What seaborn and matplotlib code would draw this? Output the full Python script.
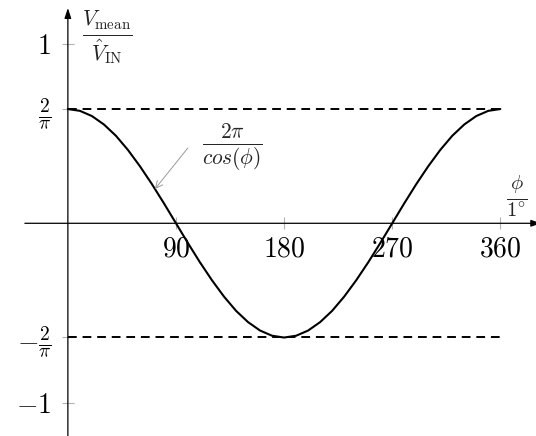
import numpy as np
import pandas as pd
import matplotlib
matplotlib.use("Agg")
import matplotlib.pyplot as plt
import seaborn as sns

# Phase angle (degrees) and normalised mean voltage V_mean / V_IN
phi_deg = [0, 10, 20, 30, 40, 50, 60, 70, 80, 90, 100, 110, 120, 130, 140, 150, 160, 170, 180,
           190, 200, 210, 220, 230, 240, 250, 260, 270, 280, 290, 300, 310, 320, 330, 340, 350, 360]
v_mean = [0.637, 0.627, 0.598, 0.551, 0.488, 0.409, 0.318, 0.218, 0.111, 0.000,
          -0.111, -0.218, -0.318, -0.409, -0.488, -0.551, -0.598, -0.627, -0.637,
          -0.627, -0.598, -0.551, -0.488, -0.409, -0.318, -0.218, -0.111, 0.000,
          0.111, 0.218, 0.318, 0.409, 0.488, 0.551, 0.598, 0.627, 0.637]

bound = 2 / np.pi
bound_levels = [bound, -bound]
bound_span = [0, 360]

x_ticks = [90, 180, 270, 360]
x_tick_labels = [r"$90$", r"$180$", r"$270$", r"$360$"]
y_ticks = [1, bound, -bound, -1]
y_tick_labels = [r"$1$", r"$\frac{2}{\pi}$", r"$-\frac{2}{\pi}$", r"$-1$"]

sns.set_style("white")
plt.rcParams["mathtext.fontset"] = "cm"
plt.rcParams["font.family"] = ["DejaVu Serif"]

fig = plt.figure(figsize=(5.36, 4.36), dpi=100)
ax = fig.add_axes([0, 0, 1, 1])
ax.set_facecolor("white")

curve = pd.DataFrame({"phi": phi_deg, "v": v_mean})
sns.lineplot(data=curve, x="phi", y="v", ax=ax, color="black", lw=1.5, sort=False)

for lvl in bound_levels:
    sns.lineplot(x=bound_span, y=[lvl, lvl], ax=ax, color="black", lw=1.4,
                 linestyle=(0, (4.5, 3.0)))

ax.set_xlim(-56.5, 389.7)
ax.set_ylim(-1.186, 1.245)

# axis lines through the origin
for s in ax.spines.values():
    s.set_visible(False)
ax.spines["left"].set_position(("data", 0))
ax.spines["bottom"].set_position(("data", 0))

arrow_kw = dict(arrowstyle="-|>,head_length=0.6,head_width=0.2", lw=0.9,
                color="black", shrinkA=0, shrinkB=0, mutation_scale=10)
ax.annotate("", xy=(394, 0), xytext=(-35.8, 0), arrowprops=arrow_kw,
            annotation_clip=False)
ax.annotate("", xy=(0, 1.200), xytext=(0, -1.25), arrowprops=arrow_kw,
            annotation_clip=False)

ax.set_xticks(x_ticks)
ax.set_xticklabels(x_tick_labels)
ax.set_yticks(y_ticks)
ax.set_yticklabels(y_tick_labels)
ax.tick_params(axis="both", direction="inout", length=8, width=0.8,
               color="#b3b3b3", labelsize=20, labelcolor="black")
ax.tick_params(axis="x", pad=5)
ax.tick_params(axis="y", pad=8)
ax.xaxis.set_ticks_position("bottom")
ax.yaxis.set_ticks_position("left")

ax.set_xlabel(r"$\frac{\phi}{1^{\circ}}$", fontsize=21, ha="center", va="center")
ax.xaxis.set_label_coords(0.9646, 0.5505)
ax.set_ylabel(r"$\frac{V_{\mathrm{mean}}}{\hat{V}_{\mathrm{IN}}}$", fontsize=22,
              rotation=0, ha="center", va="center")
ax.yaxis.set_label_coords(0.1996, 0.915)

# pointer to the curve
tip_phi = 72.5
tip_v = np.interp(tip_phi, phi_deg, v_mean)
ax.annotate("", xy=(tip_phi, tip_v), xytext=(99.9, 0.42),
            arrowprops=dict(arrowstyle="->,head_length=0.5,head_width=0.25",
                            lw=0.7, color="#999999", shrinkA=0, shrinkB=0))
ax.text(137.0, 0.425, r"$\frac{2\pi}{cos(\phi)}$", fontsize=22,
        ha="center", va="center")

fig.savefig("out.png", dpi=100, facecolor="white")
